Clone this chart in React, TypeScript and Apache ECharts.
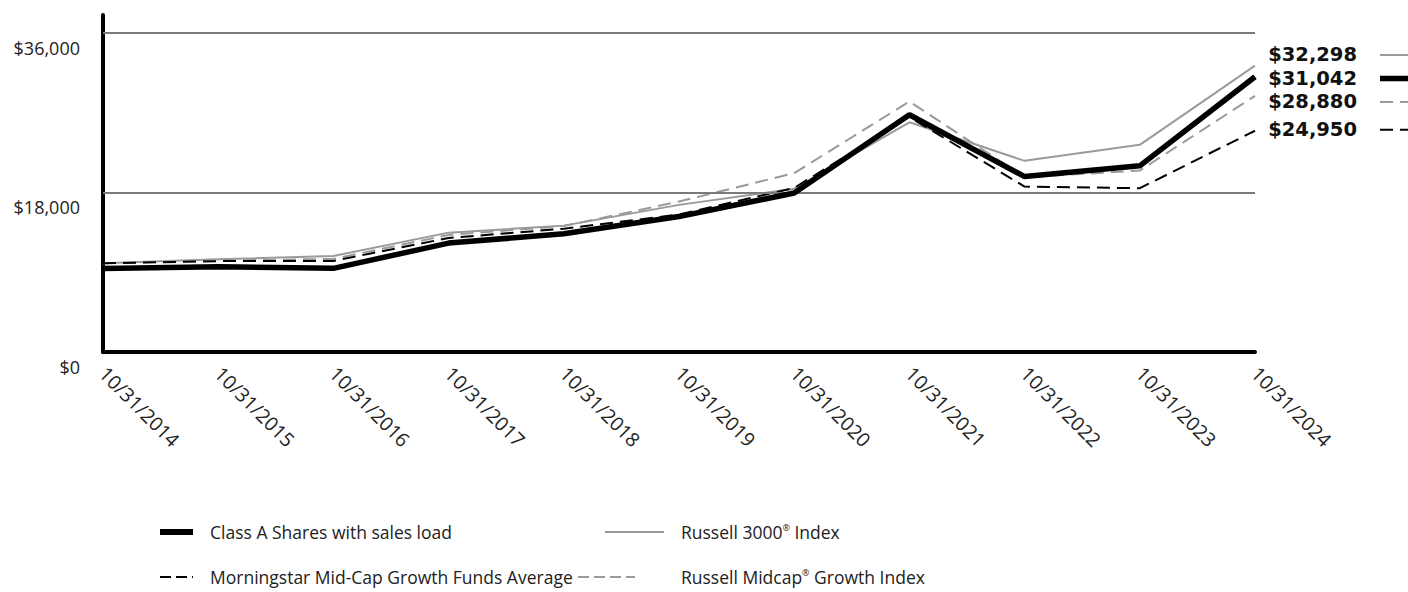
import React, { useEffect, useRef } from "react";
import * as echarts from "echarts";

const categories = [
  "10/31/2014", "10/31/2015", "10/31/2016", "10/31/2017", "10/31/2018", "10/31/2019",
  "10/31/2020", "10/31/2021", "10/31/2022", "10/31/2023", "10/31/2024",
];
const classA = [9425, 9620, 9430, 12280, 13330, 15270, 17930, 26750, 19780, 20990, 31042];
const russell3000 = [10000, 10449, 10830, 13460, 14250, 16590, 18418, 25900, 21554, 23360, 32298];
const morningstar = [10000, 10250, 10270, 12860, 13900, 15500, 18500, 26500, 18650, 18470, 24950];
const midcapGrowth = [10000, 10300, 10500, 13200, 14200, 16960, 20170, 28250, 19700, 20460, 28880];
const yTicks = [0, 18000, 36000];
const gridValues = [18000, 36000];

const FONT = "'Open Sans', sans-serif";

type SeriesDef = {
  name: string;
  data: number[];
  color: string;
  width: number;
  type: "solid" | number[];
};

const seriesDefs: SeriesDef[] = [
  { name: "Russell 3000® Index", data: russell3000, color: "#9a9a9a", width: 2, type: "solid" },
  { name: "Russell Midcap® Growth Index", data: midcapGrowth, color: "#9a9a9a", width: 2, type: [13, 7] },
  { name: "Morningstar Mid-Cap Growth Funds Average", data: morningstar, color: "#000000", width: 2, type: [13, 7] },
  { name: "Class A Shares with sales load", data: classA, color: "#000000", width: 5.5, type: "solid" },
];

const fmt = (v: number) => "$" + v.toLocaleString("en-US");

export default function App() {
  const ref = useRef<HTMLDivElement>(null);
  useEffect(() => {
    document.body.style.margin = "0";
    const chart = echarts.init(ref.current!, null, { renderer: "svg" });
    const option: any = {
      animation: false,
      grid: { left: 103, right: 153, top: 15, bottom: 240, containLabel: false },
      xAxis: {
        type: "category",
        data: categories,
        boundaryGap: false,
        axisLine: { show: true, lineStyle: { color: "#000", width: 4 } },
        axisTick: { show: false },
        axisLabel: {
          rotate: -45,
          margin: 18,
          fontFamily: FONT,
          fontSize: 19.5,
          color: "#222",
        },
        splitLine: { show: false },
      },
      yAxis: {
        type: "value",
        min: 0,
        max: 38000,
        interval: 18000,
        axisLine: { show: true, lineStyle: { color: "#000", width: 4 } },
        axisTick: { show: false },
        splitLine: { show: false },
        axisLabel: {
          showMaxLabel: false,
          margin: 23,
          fontFamily: FONT,
          fontSize: 18,
          color: "#222",
          verticalAlign: "top",
          padding: [6, 0, 0, 0],
          formatter: (v: number) => (yTicks.includes(v) ? fmt(v) : ""),
        },
      },
      series: [
        {
          type: "line",
          data: [],
          silent: true,
          z: 1,
          markLine: {
            silent: true,
            symbol: "none",
            label: { show: false },
            lineStyle: { color: "#7a7a7a", width: 2, type: "solid" },
            data: gridValues.map((v) => ({ yAxis: v })),
          },
        },
        ...seriesDefs.map((s, i) => ({
          name: s.name,
          type: "line",
          data: s.data,
          symbol: "none",
          z: 2 + i,
          lineStyle: { color: s.color, width: s.width, type: s.type },
        })),
      ],
    };
    chart.setOption(option);

    // end labels
    const endIdx = categories.length - 1;
    const items = seriesDefs.map((s) => {
      const p = chart.convertToPixel({ seriesIndex: 1 }, [endIdx, s.data[endIdx]]) as number[];
      return { s, y: p[1], v: s.data[endIdx] };
    });
    items.sort((a, b) => a.y - b.y);
    const gap = 23.5;
    for (let it = 0; it < 60; it++) {
      for (let i = 1; i < items.length; i++) {
        const g = items[i].y - items[i - 1].y;
        if (g < gap) {
          const d = (gap - g) / 2;
          items[i - 1].y -= d;
          items[i].y += d;
        }
      }
    }
    const graphics: any[] = [];
    items.forEach((it) => {
      graphics.push({
        type: "text",
        x: 1357,
        y: it.y - 1,
        style: {
          text: fmt(it.v),
          align: "right",
          verticalAlign: "middle",
          fontFamily: "'DejaVu Sans', sans-serif",
          fontWeight: "bold",
          fontSize: 19.5,
          fill: "#111",
        },
      });
      graphics.push({
        type: "line",
        shape: { x1: 1380, y1: it.y - 1, x2: 1425, y2: it.y - 1 },
        style: {
          stroke: it.s.color,
          lineWidth: it.s.width,
          lineDash: it.s.type === "solid" ? null : it.s.type,
        },
      });
    });

    // legend
    const legendRows = [
      { def: seriesDefs[3], sx: 160, ex: 193, tx: 210, y: 532 },
      { def: seriesDefs[0], sx: 605, ex: 664, tx: 681, y: 532 },
      { def: seriesDefs[2], sx: 160, ex: 193, tx: 210, y: 577 },
      { def: seriesDefs[1], sx: 578, ex: 635, tx: 681, y: 577 },
    ];
    legendRows.forEach((r) => {
      graphics.push({
        type: "line",
        shape: { x1: r.sx, y1: r.y, x2: r.ex, y2: r.y },
        style: {
          stroke: r.def.color,
          lineWidth: r.def.width === 2 ? 2 : 6,
          lineDash: r.def.type === "solid" ? null : [11, 5],
        },
      });
      const parts = r.def.name.split("®");
      const text = parts.length > 1 ? `{a|${parts[0]}}{s|®}{a|${parts[1]}}` : `{a|${r.def.name}}`;
      graphics.push({
        type: "text",
        x: r.tx,
        y: r.y,
        style: {
          text,
          verticalAlign: "middle",
          rich: {
            a: { fontFamily: FONT, fontSize: 17.5, fill: "#222" },
            s: { fontFamily: FONT, fontSize: 9, fill: "#222", verticalAlign: "top", padding: [0, 0, 8, 0] },
          },
        },
      });
    });
    chart.setOption({ graphic: graphics });

    return () => chart.dispose();
  }, []);
  return <div ref={ref} style={{ width: 1408, height: 592 }} />;
}
